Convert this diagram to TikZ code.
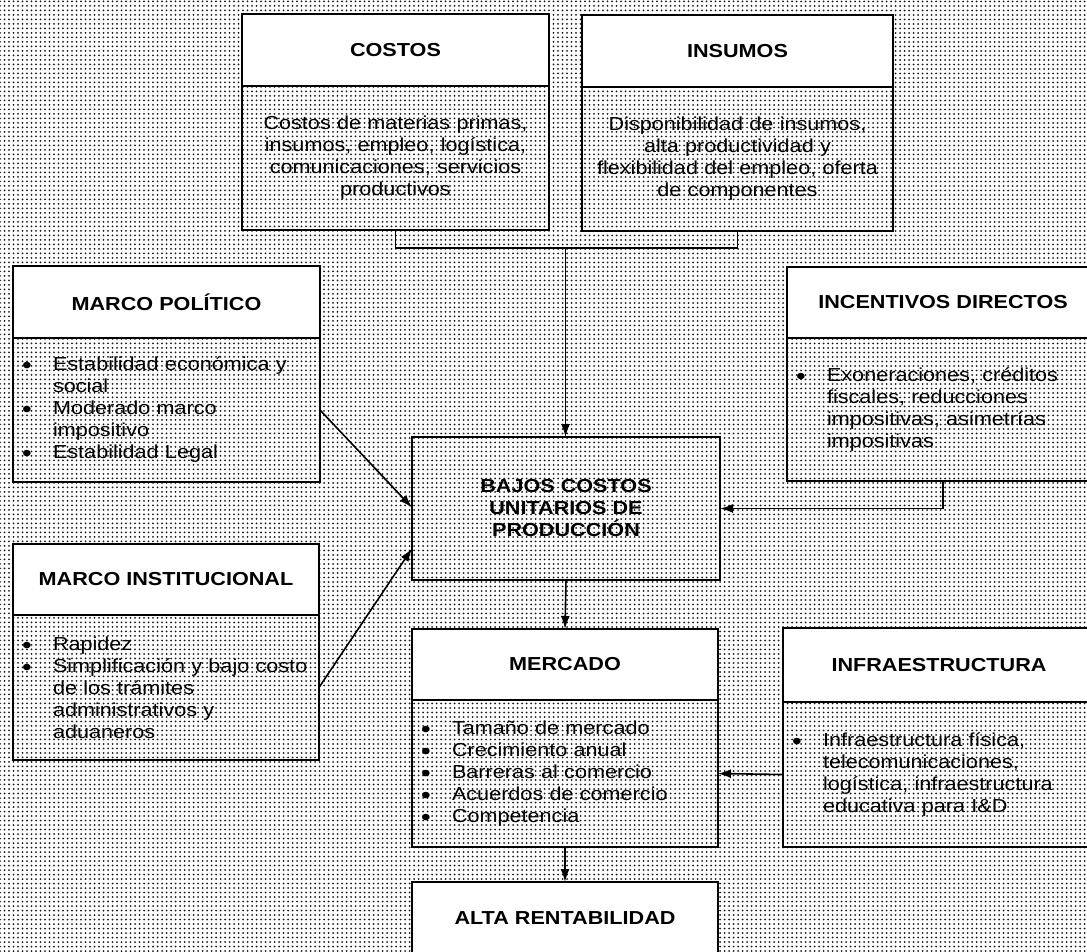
\documentclass[tikz,border=0pt]{standalone}
\usepackage{fontspec}
\setmainfont{Liberation Sans}[FakeStretch=1.15]
\usetikzlibrary{arrows.meta,patterns.meta}
\newcommand\msz{\fontsize{18.8pt}{22pt}\selectfont}
\newcommand\bl{\makebox[30pt][l]{\hspace*{-1pt}\raisebox{-2.8pt}{\fontsize{24pt}{22pt}\selectfont\textbullet}}}
\newcommand\ind{\hspace*{30pt}}
\tikzdeclarepattern{
  name=scandots,
  type=uncolored,
  bounding box={(-2.25pt,-2.25pt) and (2.25pt,2.25pt)},
  tile size={(4.5pt,4.5pt)},
  code={\fill (0pt,0pt) circle (1pt);}
}
\tikzset{
  box/.style={draw, line width=2pt, inner sep=0pt, outer sep=0pt, anchor=north west, font=\msz},
  hdr/.style={box, fill=white, minimum height=72pt, align=center, font=\msz\bfseries},
  bod/.style={box, minimum height=144pt, inner xsep=10pt},
  conn/.style={line width=1.6pt},
  arr/.style={line width=1.6pt, -{Latex[length=13pt,width=9pt]}},
}
\begin{document}
\begin{tikzpicture}[x=1pt,y=-1pt]
\useasboundingbox (0,0) rectangle (1087,951);
\fill[white] (0,0) rectangle (1087,951);
\fill[pattern=scandots, pattern color=black!90] (0,0) rectangle (1087,951);

% COSTOS
\node[hdr, minimum width=307pt] (cH) at (242,14) {COSTOS};
\node[bod, text width=287pt, align=center] (cB) at (cH.south west)
  {Costos de materias primas,\\insumos, empleo, logística,\\comunicaciones, servicios\\productivos};
% INSUMOS
\node[hdr, minimum width=311pt] (iH) at (582,15) {INSUMOS};
\node[bod, text width=291pt, align=center] (iB) at (iH.south west)
  {Disponibilidad de insumos,\\alta productividad y\\flexibilidad del empleo, oferta\\de componentes};
% MARCO POLITICO
\node[hdr, minimum width=307pt] (pH) at (13,266) {MARCO POLÍTICO};
\node[bod, text width=287pt, align=left] (pB) at (pH.south west)
  {\bl Estabilidad económica y\\\ind social\\\bl Moderado marco\\\ind impositivo\\\bl Estabilidad Legal};
% MARCO INSTITUCIONAL
\node[hdr, minimum width=306pt, minimum height=71pt] (mH) at (13,544) {MARCO INSTITUCIONAL};
\node[bod, text width=286pt, align=left, minimum height=145pt] (mB) at (mH.south west)
  {\bl Rapidez\\\bl Simplificación y bajo costo\\\ind de los trámites\\\ind administrativos y\\\ind aduaneros};
% INCENTIVOS DIRECTOS
\node[hdr, minimum width=312pt, minimum height=71pt] (nH) at (787,267) {INCENTIVOS DIRECTOS};
\node[bod, text width=292pt, align=left, minimum height=143pt] (nB) at (nH.south west)
  {\bl Exoneraciones, créditos\\\ind fiscales, reducciones\\\ind impositivas, asimetrías\\\ind impositivas};
% BAJOS COSTOS
\node[box, minimum width=308pt, minimum height=143pt, align=center, font=\msz\bfseries] (bajos) at (412,437)
  {BAJOS COSTOS\\UNITARIOS DE\\PRODUCCIÓN};
% MERCADO
\node[hdr, minimum width=306pt, minimum height=71pt] (kH) at (412,629) {MERCADO};
\node[bod, text width=286pt, align=left, minimum height=147pt] (kB) at (kH.south west)
  {\bl Tamaño de mercado\\\bl Crecimiento anual\\\bl Barreras al comercio\\\bl Acuerdos de comercio\\\bl Competencia};
% INFRAESTRUCTURA
\node[hdr, minimum width=312pt, minimum height=74pt] (fH) at (783,628) {INFRAESTRUCTURA};
\node[bod, text width=292pt, align=left, minimum height=145pt] (fB) at (fH.south west)
  {\bl Infraestructura física,\\\ind telecomunicaciones,\\\ind logística, infraestructura\\\ind educativa para I\&D};
% ALTA RENTABILIDAD
\node[hdr, minimum width=306pt, minimum height=72pt] (aH) at (412,882) {ALTA RENTABILIDAD};

% connectors
\coordinate (j) at (565.5,248);
\draw[conn] (cB.south) |- (j) -| (iB.south);
\draw[arr] (j) -- (j |- bajos.north);
\draw[arr] (nB.south) |- (bajos.east);
\draw[arr] (pB.east) -- ([yshift=1pt]bajos.west);
\draw[arr] (mB.east) -- ([yshift=-40pt]bajos.west);
\draw[arr] (bajos.south) -- (kH.north);
\draw[arr] (fB.west) -- (kB.east);
\draw[arr] (kB.south) -- (aH.north);
\end{tikzpicture}
\end{document}
